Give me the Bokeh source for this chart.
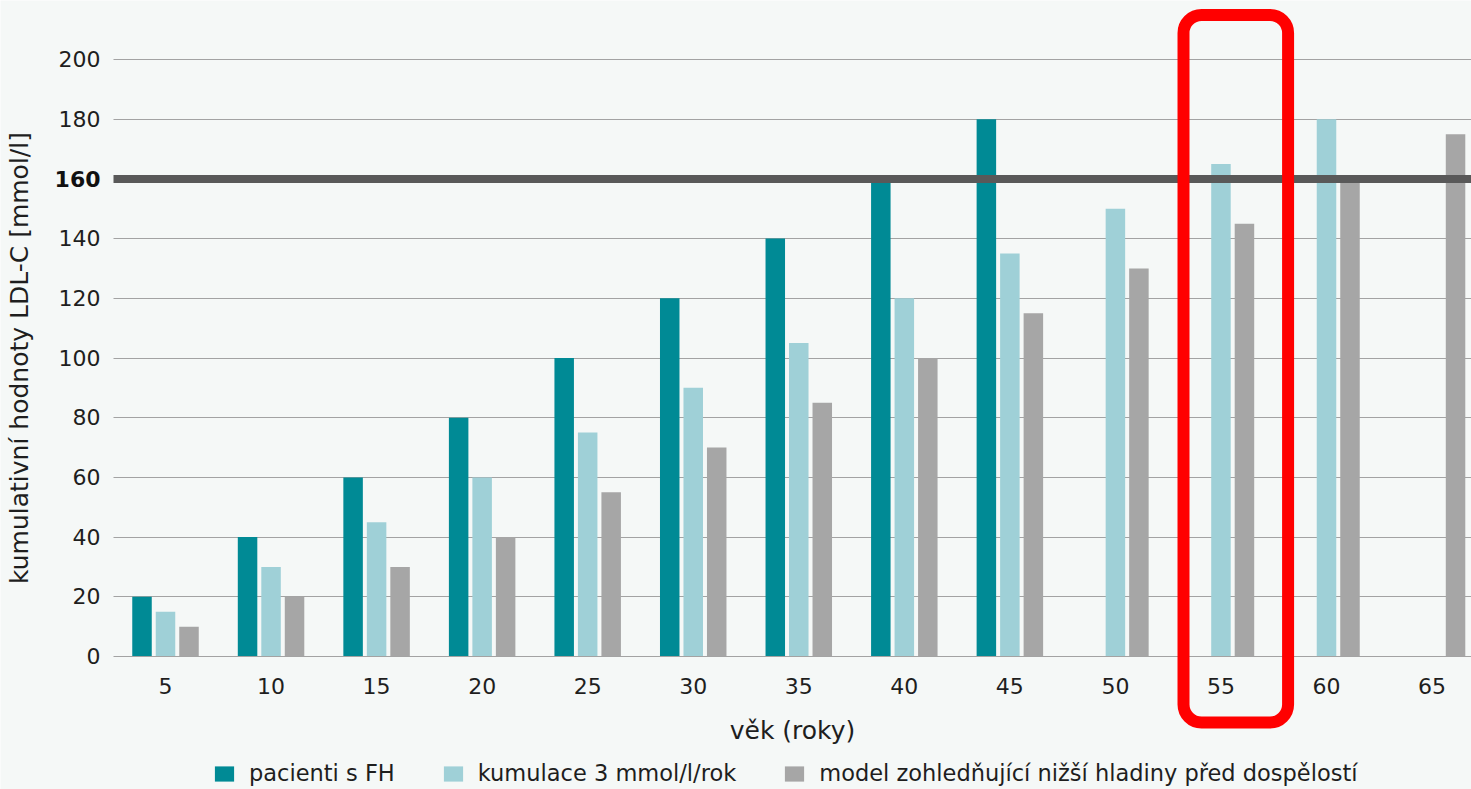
from bokeh.plotting import figure
from bokeh.models import (Range1d, FixedTicker, Label, BoxAnnotation,
                          Legend, LegendItem, ColumnDataSource, Grid)
from bokeh.embed import file_html
from bokeh.resources import INLINE

ages = [5, 10, 15, 20, 25, 30, 35, 40, 45, 50, 55, 60, 65]
fh_ages = [5, 10, 15, 20, 25, 30, 35, 40, 45]
fh_vals = [20, 40, 60, 80, 100, 120, 140, 160, 180]
cum_ages = [5, 10, 15, 20, 25, 30, 35, 40, 45, 50, 55, 60]
cum_vals = [15, 30, 45, 60, 75, 90, 105, 120, 135, 150, 165, 180]
mod_ages = [5, 10, 15, 20, 25, 30, 35, 40, 45, 50, 55, 60, 65]
mod_vals = [10, 20, 30, 40, 55, 70, 85, 100, 115, 130, 145, 160, 175]
y_ticks = [0, 20, 40, 60, 80, 100, 120, 140, 160, 180, 200]
threshold = 160
highlight_age = 55

series_names = ["pacienti s FH", "kumulace 3 mmol/l/rok",
                "model zohledňující nižší hladiny před dospělostí"]
colors = ["#008a95", "#9fd0d7", "#a6a6a6"]

FONT = "DejaVu Sans"
TXT = "#1e1e1e"
BG = "#f5f8f7"

X0, X1 = -2.8166, 66.869      # visible x extent
AX_X = 2.5366                  # where the value axis sits
Y0, Y1 = -44.56, 219.77

p = figure(width=1471, height=789, output_backend="svg", toolbar_location=None,
           x_range=Range1d(X0, X1), y_range=Range1d(Y0, Y1),
           min_border_left=0, min_border_right=0, min_border_top=0, min_border_bottom=0,
           background_fill_color=BG, border_fill_color=BG, outline_line_color=None)

p.xgrid.visible = False
p.ygrid.visible = False

# grid lines (under bars)
grid_ticks = [t for t in y_ticks if t not in (0, threshold)]
g = Grid(dimension=1, ticker=FixedTicker(ticks=grid_ticks), grid_line_color="#a3a3a3",
         grid_line_width=1)
try:
    g.cross_bounds = (AX_X, X1)
    p.add_layout(g)
except Exception:
    p.segment(x0=AX_X, x1=X1, y0=grid_ticks, y1=grid_ticks, line_color="#a3a3a3",
              line_width=1, level="underlay")

off = 1.113
bw = 0.924
src_fh = ColumnDataSource(dict(x=[a - off for a in fh_ages], top=fh_vals))
src_cum = ColumnDataSource(dict(x=[a for a in cum_ages], top=cum_vals))
src_mod = ColumnDataSource(dict(x=[a + off for a in mod_ages], top=mod_vals))
r1 = p.vbar(x="x", top="top", bottom=0, width=bw, source=src_fh, color=colors[0], line_color=None)
r2 = p.vbar(x="x", top="top", bottom=0, width=bw, source=src_cum, color=colors[1], line_color=None)
r3 = p.vbar(x="x", top="top", bottom=0, width=bw, source=src_mod, color=colors[2], line_color=None)

# threshold line on top of bars
p.segment(x0=[AX_X], x1=[X1], y0=[threshold], y1=[threshold], line_color="#595959", line_width=8)

# axes placed inside the frame
xa = p.xaxis[0]
ya = p.yaxis[0]
xa.fixed_location = 0
ya.fixed_location = AX_X
xa.ticker = FixedTicker(ticks=ages)
ya.ticker = FixedTicker(ticks=y_ticks)
xa.bounds = (AX_X, 67.62)
ya.bounds = (0, 200)
ya.major_label_overrides = {threshold: " "}
for ax in (xa, ya):
    ax.major_tick_line_color = None
    ax.minor_tick_line_color = None
    ax.major_tick_out = 0
    ax.major_tick_in = 0
    ax.minor_tick_out = 0
    ax.major_label_text_font = FONT
    ax.major_label_text_font_size = "22px"
    ax.major_label_text_color = TXT
    ax.axis_label_text_font = FONT
    ax.axis_label_text_font_size = "25px"
    ax.axis_label_text_font_style = "normal"
    ax.axis_label_text_color = TXT
ya.axis_line_color = None
xa.axis_line_color = "#a3a3a3"
xa.axis_line_width = 1
ya.major_label_standoff = 13
xa.major_label_standoff = 22
ya.axis_label = "kumulativní hodnoty LDL-C [mmol/l]"
xa.axis_label = "věk (roky)"
ya.axis_label_standoff = 22
xa.axis_label_standoff = 18

p.add_layout(Label(x=AX_X, y=threshold, x_offset=-13, text=str(threshold),
                   text_font=FONT, text_font_size="22px", text_font_style="bold",
                   text_color="#111111", text_align="right", text_baseline="middle"))

# highlight box around one age group
p.add_layout(BoxAnnotation(left=highlight_age - 1.774, right=highlight_age + 3.18,
                           top=214.9, bottom=-22.1, fill_alpha=0, fill_color=None,
                           line_color="#ff0000", line_alpha=1, line_width=12,
                           border_radius=18, level="overlay"))

legend = Legend(items=[LegendItem(label=series_names[0], renderers=[r1]),
                       LegendItem(label=series_names[1], renderers=[r2]),
                       LegendItem(label=series_names[2], renderers=[r3])],
                orientation="horizontal", location=(212, 3),
                label_text_font=FONT, label_text_font_size="22.5px", label_text_color=TXT,
                glyph_width=24, glyph_height=19, label_standoff=13, spacing=46,
                background_fill_alpha=0, border_line_color=None,
                padding=0, margin=0)
p.add_layout(legend)

open("out.html", "w").write(file_html(p, INLINE))
